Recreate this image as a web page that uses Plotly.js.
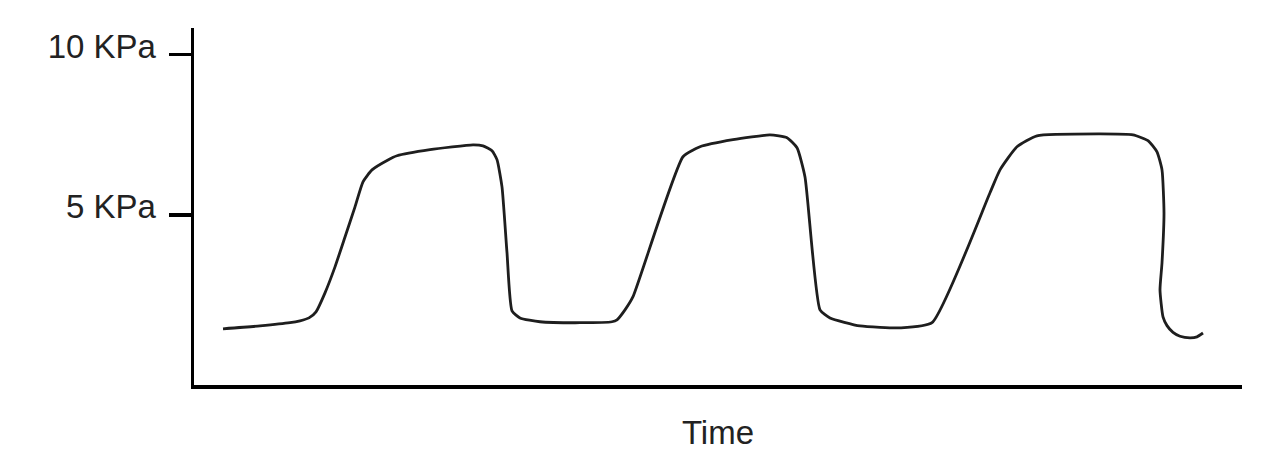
<!DOCTYPE html>
<html>
<head>
<meta charset="utf-8">
<script src="https://cdn.plot.ly/plotly-3.0.1.min.js"></script>
<style>html,body{margin:0;padding:0;background:#fff;}#chart{width:1282px;height:466px;}</style>
</head>
<body>
<div id="chart"></div>
<script>
// Time (arbitrary units) and CO2 partial pressure (KPa)
const time = [0.31,0.68,0.98,1.08,1.17,1.24,1.33,1.43,1.53,1.63,1.71,1.80,1.96,2.05,2.38,2.81,2.91,3.00,3.05,3.10,3.15,3.20,3.28,3.48,3.88,4.20,4.25,4.33,4.41,4.91,5.08,5.41,5.78,5.95,6.05,6.13,6.28,6.38,6.68,7.08,7.40,7.98,8.08,8.25,8.45,9.08,9.41,9.56,9.65,9.70,9.72,9.70,9.68,9.71,9.75,9.81,9.88,9.98,10.05,10.11];
const pressure = [1.45,1.54,1.64,1.70,1.79,1.98,2.57,3.38,4.31,5.25,6.03,6.40,6.71,6.84,7.03,7.18,7.15,7.00,6.72,5.87,3.82,2.01,1.79,1.67,1.64,1.67,1.73,2.04,2.45,6.81,7.12,7.34,7.49,7.40,7.09,6.18,2.04,1.79,1.54,1.48,1.64,5.69,6.40,7.12,7.46,7.52,7.49,7.31,6.96,6.40,5.06,3.50,2.66,1.82,1.55,1.34,1.22,1.17,1.20,1.32];
const tickValues = [5, 10];
const tickLabels = ['5 KPa', '10 KPa'];
const xTitle = 'Time';

const trace = {
  x: time, y: pressure, type: 'scatter', mode: 'lines',
  line: {color: '#1e1e1e', width: 2.8, shape: 'spline', smoothing: 0.5},
  hoverinfo: 'skip'
};
const layout = {
  width: 1282, height: 466,
  margin: {l: 194, r: 40, t: 28, b: 81},
  paper_bgcolor: '#ffffff', plot_bgcolor: '#ffffff',
  showlegend: false,
  font: {family: 'Liberation Sans, Arial, sans-serif', color: '#222222', size: 33},
  xaxis: {
    range: [0.02, 10.50], showline: true, linecolor: '#000000', linewidth: 3.5,
    showgrid: false, zeroline: false, showticklabels: false, ticks: '',
    title: {text: xTitle, font: {size: 33, color: '#222222'}, standoff: 34}
  },
  yaxis: {
    range: [-0.3, 10.82], showline: true, linecolor: '#000000', linewidth: 3.5,
    showgrid: false, zeroline: false,
    tickmode: 'array', tickvals: tickValues, ticktext: tickLabels,
    ticks: 'outside', ticklen: 22, tickwidth: 3.5, tickcolor: '#000000',
    tickfont: {size: 33, color: '#222222'},
    ticklabelstandoff: 6, ticklabelshift: -8
  }
};
Plotly.newPlot('chart', [trace], layout, {displayModeBar: false, staticPlot: true});
</script>
</body>
</html>
